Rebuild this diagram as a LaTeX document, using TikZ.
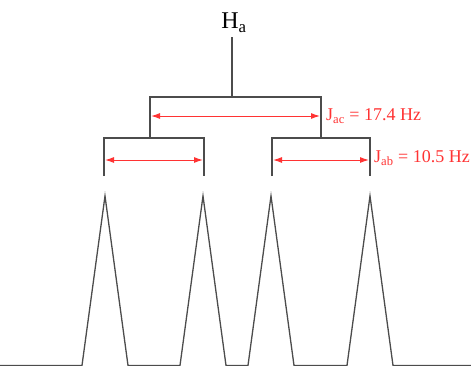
\documentclass[tikz,border=0pt]{standalone}
\usepackage{fontspec}
\setmainfont{Liberation Serif}
\usetikzlibrary{arrows.meta}
\begin{document}
\begin{tikzpicture}[x=1pt,y=-1pt,
  tree/.style={draw=black!70,line width=1.3pt},
  jarrow/.style={draw=red!80,line width=1pt,{Latex[length=9pt,width=6pt]}-{Latex[length=9pt,width=6pt]}},
  jlabel/.style={text=red!80,font=\fontsize{18}{21}\selectfont,anchor=west,inner sep=0pt},
  peak/.style={draw=black!70,line width=1.3pt,line join=miter}]
\useasboundingbox (0,0) rectangle (471,365);
% title
\node[font=\fontsize{24}{28}\selectfont,inner sep=0pt] (ha) at (234,23) {H\textsubscript{a}};
% tree coordinates
\coordinate (top) at (232,37);
\coordinate (j1) at (232,97);
\coordinate (l1) at (150,97);
\coordinate (r1) at (321,97);
\coordinate (l1b) at (150,138);
\coordinate (r1b) at (321,138);
\coordinate (ll) at (104,138);
\coordinate (lr) at (204,138);
\coordinate (rl) at (272,138);
\coordinate (rr) at (370,138);
\coordinate (lld) at (104,176);
\coordinate (lrd) at (204,176);
\coordinate (rld) at (272,176);
\coordinate (rrd) at (370,176);
\draw[tree] (top) -- (j1);
\draw[tree] (l1b) -- (l1) -- (r1) -- (r1b);
\draw[tree] (lld) -- (ll) -- (lr) -- (lrd);
\draw[tree] (rld) -- (rl) -- (rr) -- (rrd);
% coupling arrows
\coordinate (a1) at (151,116);
\coordinate (a2) at (320,116);
\coordinate (b1) at (105,160);
\coordinate (b2) at (203,160);
\coordinate (c1) at (273,160);
\coordinate (c2) at (369,160);
\draw[jarrow] (a1) -- (a2);
\draw[jarrow] (b1) -- (b2);
\draw[jarrow] (c1) -- (c2);
\node[jlabel] (jac) at (326,116) {J\textsubscript{ac} = 17.4 Hz};
\node[jlabel] (jab) at (374,158) {J\textsubscript{ab} = 10.5 Hz};
% spectrum
\draw[peak] (0,365.4) -- (82,365.4) -- (105,196) -- (128,365.4) -- (180,365.4) -- (203,196) -- (226,365.4)
  -- (248,365.4) -- (271,196) -- (294,365.4) -- (347,365.4) -- (370,196) -- (393,365.4) -- (471,365.4);
\end{tikzpicture}
\end{document}
